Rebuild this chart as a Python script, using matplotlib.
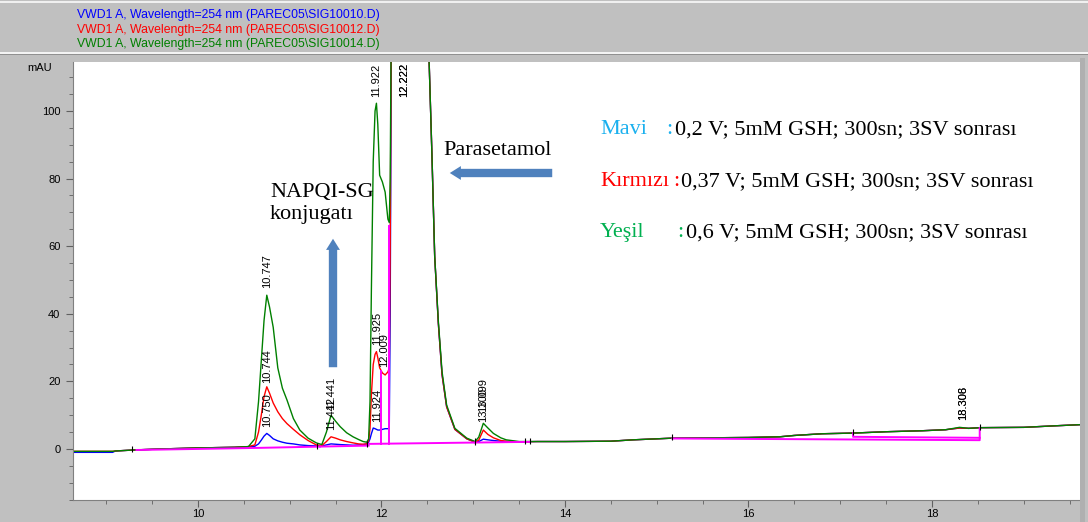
import matplotlib
matplotlib.use("Agg")
import matplotlib.pyplot as plt
from matplotlib.patches import FancyArrowPatch, Rectangle
from matplotlib.ticker import MultipleLocator

W, H = 1088, 522

# retention time (min) shared by the three traces
t_min = [8.64, 9.0, 9.07, 9.1, 9.3, 9.6, 10.0, 10.4, 10.55,
         10.62, 10.66, 10.69, 10.72, 10.75, 10.78, 10.82, 10.87, 10.92, 10.97, 11.04, 11.11, 11.2, 11.29, 11.35,
         11.40, 11.45, 11.5, 11.55, 11.62, 11.69, 11.75, 11.8, 11.84,
         11.86, 11.875, 11.89, 11.91, 11.93, 11.945, 11.96, 11.98, 12.01, 12.04, 12.07, 12.085,
         12.095, 12.11, 12.2, 12.3, 12.4, 12.5, 12.52, 12.55, 12.58, 12.62, 12.66, 12.71, 12.8, 12.93, 13.02,
         13.06, 13.11, 13.16, 13.22, 13.3, 13.36, 13.5, 13.7, 14.0, 14.5, 14.74, 15.17, 16.0, 16.34, 16.5,
         16.8, 17.14, 17.5, 17.9, 18.15, 18.3, 18.4, 18.52, 19.0, 19.3, 19.62]

# mAU, SIG10010 (blue)
blue_mau = [-1.0, -1.0, -1.0, -0.6, -0.3, 0.0, 0.3, 0.5, 0.7,
            0.8, 1.5, 2.6, 3.8, 4.6, 4.0, 3.0, 2.4, 2.0, 1.7, 1.5, 1.2, 1.0, 0.9, 0.9,
            1.2, 1.5, 1.4, 1.3, 1.2, 1.1, 1.2, 1.3, 1.5,
            2.0, 3.0, 4.5, 6.2, 6.0, 5.8, 5.6, 5.6, 5.8, 6.0, 6.0, 6.0,
            40.0, 140.0, 400.0, 380.0, 250.0, 125.0, 114.0, 87.0, 57.0, 37.0, 22.0, 12.5, 5.8, 3.0, 2.0,
            2.2, 2.9, 2.7, 2.5, 2.3, 2.2, 2.1, 2.2, 2.2, 2.3, 2.7, 3.2, 3.4, 3.6, 4.0,
            4.5, 4.7, 5.1, 5.4, 5.7, 6.2, 6.1, 6.3, 6.4, 6.8, 7.2]

# mAU, SIG10012 (red)
red_mau = [-0.7, -0.7, -0.7, -0.6, -0.3, 0.0, 0.3, 0.5, 0.7,
           1.2, 5.0, 10.0, 15.5, 18.4, 16.5, 13.6, 11.0, 9.0, 7.5, 5.8, 4.2, 2.5, 1.2, 1.0,
           2.2, 3.6, 3.2, 2.7, 2.2, 1.8, 1.5, 1.4, 1.5,
           2.5, 6.0, 16.0, 25.0, 28.0, 28.8, 27.0, 24.0, 22.5, 21.9, 22.8, 24.0,
           60.0, 140.0, 400.0, 380.0, 250.0, 125.0, 114.0, 87.0, 57.0, 37.0, 22.0, 12.5, 5.8, 3.0, 2.0,
           2.6, 5.6, 4.3, 3.3, 2.5, 2.3, 2.1, 2.2, 2.2, 2.3, 2.7, 3.2, 3.4, 3.6, 4.0,
           4.5, 4.7, 5.1, 5.4, 5.7, 6.2, 6.1, 6.3, 6.4, 6.8, 7.2]

# mAU, SIG10014 (green)
green_mau = [-0.7, -0.7, -0.7, -0.6, -0.3, 0.0, 0.3, 0.5, 0.7,
             3.0, 14.0, 26.0, 38.0, 45.5, 42.0, 36.0, 24.0, 18.0, 14.5, 9.0, 5.6, 3.2, 1.8, 1.3,
             5.0, 10.0, 8.2, 6.6, 4.8, 3.6, 2.8, 2.2, 2.0,
             3.0, 14.0, 47.0, 85.0, 100.0, 102.3, 96.0, 81.0, 79.0, 76.0, 68.0, 67.0,
             80.0, 140.0, 400.0, 380.0, 250.0, 125.0, 114.0, 87.0, 57.0, 37.7, 22.9, 13.0, 6.1, 3.2, 2.2,
             3.5, 7.6, 6.2, 4.6, 3.3, 2.7, 2.2, 2.2, 2.2, 2.3, 2.7, 3.2, 3.4, 3.6, 4.0,
             4.5, 4.7, 5.1, 5.4, 5.7, 6.4, 6.1, 6.3, 6.4, 6.8, 7.2]

# integration baselines / drop lines (magenta)
base_t = [[9.33, 10.62, 11.33], [11.33, 11.86], [11.86, 13.02], [12.0, 12.0], [12.085, 12.085],
          [13.02, 13.62], [15.17, 18.52, 18.52], [17.14, 17.14, 18.52]]
base_v = [[-0.3, 0.3, 0.7], [0.7, 1.0], [1.5, 1.9], [1.6, 23.0], [1.6, 66.0],
          [1.9, 2.1], [3.1, 2.6, 6.2], [4.7, 3.6, 3.3]]

# integration event marks
event_t = [9.28, 11.3, 11.84, 13.02, 13.56, 13.62, 15.17, 17.14, 18.52]
event_v = [-0.3, 0.7, 1.3, 1.9, 2.1, 2.1, 3.2, 4.7, 6.2]

# retention time labels: text, time, bottom of label (mAU)
peak_txt = ["10.747", "10.744", "10.750", "11.441", "11.442", "11.922", "12.222", "12.222",
            "11.925", "12.009", "11.924", "13.100", "13.099", "18.306", "18.308"]
peak_t = [10.75, 10.75, 10.75, 11.45, 11.45, 11.945, 12.245, 12.25,
          11.957, 12.027, 11.95, 13.11, 13.11, 18.338, 18.338]
peak_v = [47.5, 19.5, 6.5, 11.5, 5.6, 104.0, 104.0, 104.0,
          30.8, 24.3, 8.0, 8.0, 10.9, 8.6, 8.6]

headers = ["VWD1 A, Wavelength=254 nm (PAREC05\\SIG10010.D)",
           "VWD1 A, Wavelength=254 nm (PAREC05\\SIG10012.D)",
           "VWD1 A, Wavelength=254 nm (PAREC05\\SIG10014.D)"]
header_colors = ["#0000ff", "#ff0000", "#008000"]

legend_names = ["Mavi", "Kırmızı", "Yeşil"]
legend_desc = ["0,2 V; 5mM GSH; 300sn; 3SV sonrası",
               "0,37 V; 5mM GSH; 300sn; 3SV sonrası",
               "0,6 V; 5mM GSH; 300sn; 3SV sonrası"]
legend_colors = ["#1ab0ee", "#ff0000", "#00b050"]


def fx(x):
    return x / W


def fy(y):
    return 1 - y / H


fig = plt.figure(figsize=(W / 100, H / 100), dpi=100, facecolor="#c0c0c0")

# header strip lines
for y0, h, c in [(1.5, 1.2, "#f0f0f0"), (52.5, 1.5, "#f4f4f4"), (54.2, 1.2, "#909090")]:
    fig.add_artist(Rectangle((0, fy(y0 + h)), 1, h / H, transform=fig.transFigure,
                             facecolor=c, edgecolor="none"))
for i, (s, c) in enumerate(zip(headers, header_colors)):
    fig.text(fx(77), fy(15 + 14.7 * i), s, color=c, fontsize=8.8, family="Liberation Sans", va="center")

ax = fig.add_axes([fx(73), fy(500), (1080 - 73) / W, (500 - 62) / H])
ax.set_facecolor("white")

ax.plot(t_min, blue_mau, color="#0000ff", lw=1.0, zorder=2)
ax.plot(t_min, red_mau, color="#ff0000", lw=1.0, zorder=2)
ax.plot(t_min, green_mau, color="#008000", lw=1.0, zorder=2)
for bt, bv in zip(base_t, base_v):
    ax.plot(bt, bv, color="#ff00ff", lw=1.4, zorder=3)
ax.vlines(event_t, [v - 0.6 for v in event_v], [v + 1.2 for v in event_v], color="black", lw=0.8, zorder=4)

for s, x, y in zip(peak_txt, peak_t, peak_v):
    ax.text(x, y, s, rotation=90, ha="center", va="bottom", fontsize=8, family="Liberation Sans")

ax.set_xlim(8.638, 19.613)
ax.set_ylim(-15.1, 114.5)
ax.xaxis.set_major_locator(MultipleLocator(2))
ax.xaxis.set_minor_locator(MultipleLocator(0.5))
ax.yaxis.set_major_locator(MultipleLocator(20))
ax.yaxis.set_minor_locator(MultipleLocator(5))
ax.tick_params(which="both", direction="out", color="#606060", labelsize=8)
ax.tick_params(which="major", length=5)
ax.tick_params(axis="y", which="major", pad=4)
ax.tick_params(axis="x", which="major", pad=1.5)
ax.tick_params(which="minor", length=3)
for lab in ax.get_xticklabels() + ax.get_yticklabels():
    lab.set_family("Liberation Sans")
for side in ["top", "right"]:
    ax.spines[side].set_visible(False)
for side in ["left", "bottom"]:
    ax.spines[side].set_color("#808080")
    ax.spines[side].set_linewidth(0.8)

fig.text(fx(40), fy(68), "mAU", fontsize=8, family="Liberation Sans", ha="center", va="center")

# right splitter bar
fig.add_artist(Rectangle((fx(1080), 0), 5 / W, fy(58), transform=fig.transFigure,
                         facecolor="#b0b0b0", edgecolor="none"))

# annotations
serif = "Liberation Serif"
fig.text(fx(443), fy(155), "Parasetamol", fontsize=16, family=serif, va="baseline")
fig.text(fx(270), fy(197), "NAPQI-SG", fontsize=16, family=serif, va="baseline")
fig.text(fx(270), fy(219), "konjugatı", fontsize=16, family=serif, va="baseline")

arrow_style = "simple,head_length=0.8,head_width=1.0,tail_width=0.6"
fig.add_artist(FancyArrowPatch((fx(555), fy(173)), (fx(447), fy(173)), transform=fig.transFigure,
                               arrowstyle=arrow_style, mutation_scale=10, color="#4f81bd", lw=0))
fig.add_artist(FancyArrowPatch((fx(333), fy(370)), (fx(333), fy(236)), transform=fig.transFigure,
                               arrowstyle=arrow_style, mutation_scale=10, color="#4f81bd", lw=0))

name_x = [600, 600, 600]
colon_x = [666, 673, 677]
desc_x = [675, 681, 686]
row_y = [134, 186, 237]
for i in range(3):
    fig.text(fx(name_x[i]), fy(row_y[i]), legend_names[i], color=legend_colors[i], fontsize=16, family=serif)
    fig.text(fx(colon_x[i]), fy(row_y[i]), ":", color=legend_colors[i], fontsize=16, family=serif)
    fig.text(fx(desc_x[i]), fy(row_y[i]), legend_desc[i], color="black", fontsize=16, family=serif)

fig.savefig("out.png", dpi=100, facecolor=fig.get_facecolor())
